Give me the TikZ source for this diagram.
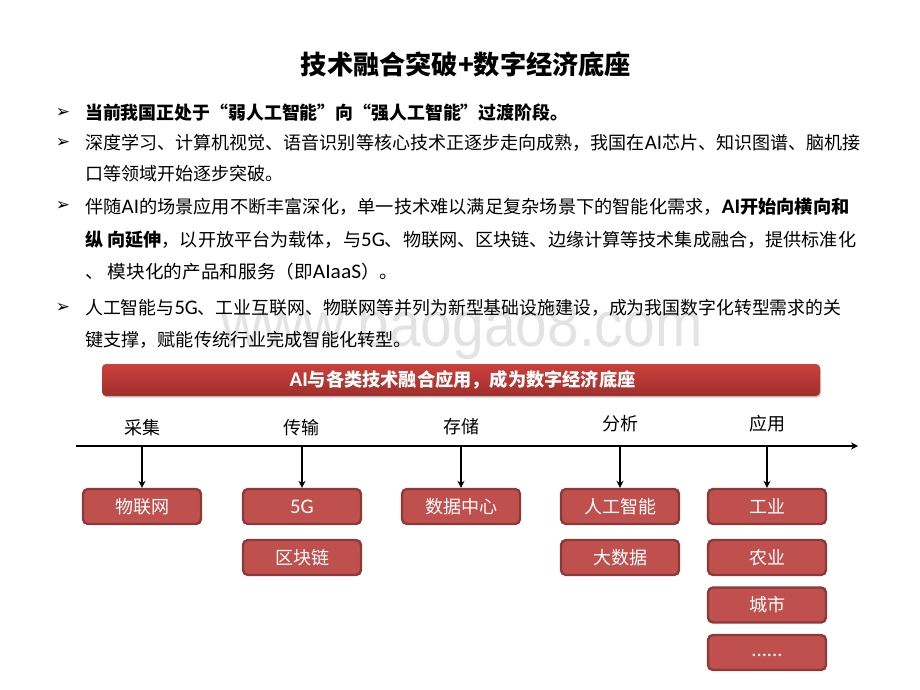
\documentclass[tikz,border=0pt]{standalone}
\usepackage{xcolor}
\usepackage{fontspec}
\setmainfont{Noto Sans CJK SC}
\newfontfamily\latn[Scale=1.15]{Carlito}
\newfontfamily\bulletfont{DejaVu Sans}
\newfontfamily\markfont{Liberation Sans}
\usetikzlibrary{arrows.meta,shadows}
\definecolor{boxfill}{HTML}{C0504D}
\definecolor{boxline}{HTML}{8C3A38}
\definecolor{bantop}{HTML}{CC403C}
\definecolor{banbot}{HTML}{A02E2B}
\tikzset{
    bodyline/.style={anchor=west,inner sep=0pt,font=\fontsize{18}{18}\selectfont},
    bodybold/.style={bodyline,font=\fontsize{18}{18}\selectfont\bfseries},
    bulletmark/.style={anchor=center,inner sep=0pt,font=\bulletfont\fontsize{17}{17}\selectfont},
    stagelabel/.style={inner sep=0pt,font=\fontsize{18}{18}\selectfont},
    techbox/.style={draw=boxline,line width=2.4pt,fill=boxfill,rounded corners=5pt,minimum width=118pt,minimum height=35pt,inner sep=0pt,text=white,font=\fontsize{18}{18}\selectfont},
    flowarrow/.style={-{Stealth[length=7pt,width=7pt]},line width=1.4pt,black}
}
\begin{document}
\begin{tikzpicture}[x=1pt,y=-1pt]
    \useasboundingbox (0,0) rectangle (920,690);

    % Watermark
    \node[inner sep=0pt,text=black!11,xscale=0.89,font=\markfont\fontsize{64}{64}\selectfont] (watermark) at (462,330) {www.baogao8.com};

    % Title
    \node[inner sep=0pt,font=\fontsize{26.2}{26.2}\selectfont\bfseries] (title) at (466,64) {技术融合突破+数字经济底座};

    % Bullets
    \node[bulletmark] (b1) at (63,113) {➢};
    \node[bulletmark] (b2) at (63,143) {➢};
    \node[bulletmark] (b3) at (63,206) {➢};
    \node[bulletmark] (b4) at (63,308) {➢};

    % Text lines
    \node[bodybold,xscale=0.994] (l1) at (85,113) {当前我国正处于“弱人工智能”向“强人工智能”过渡阶段。};
    \node[bodyline,xscale=1.003] (l2) at (85,143) {深度学习、计算机视觉、语音识别等核心技术正逐步走向成熟，我国在{\latn AI}芯片、知识图谱、脑机接};
    \node[bodyline] (l3) at (85,174) {口等领域开始逐步突破。};
    \node[bodyline,xscale=1.012] (l4) at (85,207) {伴随{\latn AI}的场景应用不断丰富深化，单一技术难以满足复杂场景下的智能化需求，\textbf{{\latn AI}开始向横向和}};
    \node[bodyline,xscale=1.007] (l5) at (85,240) {\textbf{纵 向延伸}，以开放平台为载体，与{\latn 5G}、物联网、区块链、边缘计算等技术集成融合，提供标准化};
    \node[bodyline,xscale=1.035] (l6) at (85,272) {、 模块化的产品和服务（即{\latn AIaaS}）。};
    \node[bodyline,xscale=0.993] (l7) at (85,308) {人工智能与{\latn 5G}、工业互联网、物联网等并列为新型基础设施建设，成为我国数字化转型需求的关};
    \node[bodyline,xscale=1.008] (l8) at (85,340) {键支撑，赋能传统行业完成智能化转型。};

    % Banner
    \node[rounded corners=4pt,top color=bantop,bottom color=banbot,drop shadow={shadow xshift=1pt,shadow yshift=-1.5pt,opacity=0.4},minimum width=718pt,minimum height=32pt,inner sep=0pt,text=white,font=\fontsize{18.2}{18.2}\selectfont\bfseries] (banner) at (461,380) {\hspace{3pt}{\latn AI}与各类技术融合应用，成为数字经济底座};

    % Stage axis
    \coordinate (axisL) at (76,446);
    \coordinate (axisR) at (858,446);
    \draw[flowarrow] (axisL) -- (axisR);

    % Stages
    \node[stagelabel] (cj) at (142,428) {采集};
    \node[stagelabel] (cs) at (301,428) {传输};
    \node[stagelabel] (cc) at (461,427) {存储};
    \node[stagelabel] (fx) at (620,424) {分析};
    \node[stagelabel] (yy) at (767,424) {应用};

    % Boxes
    \node[techbox] (iot) at (142,506.5) {物联网};
    \node[techbox] (fiveg) at (302,506.5) {{\latn 5G}};
    \node[techbox] (chain) at (302,557.5) {区块链};
    \node[techbox] (idc) at (461,506.5) {数据中心};
    \node[techbox] (ai) at (620,506.5) {人工智能};
    \node[techbox] (bigdata) at (620,557.5) {大数据};
    \node[techbox] (ind) at (767,506.5) {工业};
    \node[techbox] (agr) at (767,557.5) {农业};
    \node[techbox] (city) at (767,605) {城市};
    \node[techbox] (more) at (767,652.5) {\smash{\raisebox{-4pt}{\latn ......}}};

    % Drops from axis
    \foreach \i/\xx in {iot/142,fiveg/302,idc/461,ai/620,ind/767}{
        \coordinate (top\i) at (\xx,446);
        \draw[flowarrow] (top\i) -- (\i);
    }
\end{tikzpicture}
\end{document}
